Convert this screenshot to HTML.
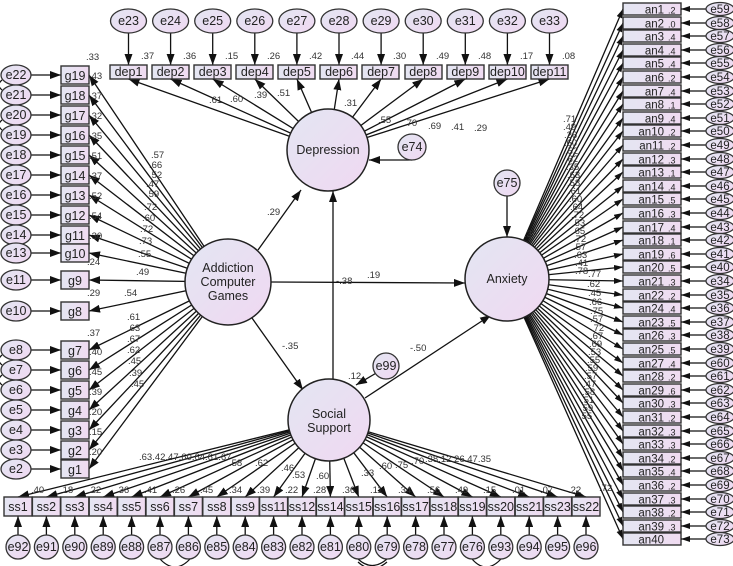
<!DOCTYPE html>
<html><head><meta charset="utf-8"><style>
html,body{margin:0;padding:0;background:#fff;}
svg{display:block;font-family:"Liberation Sans",sans-serif;}
.b{fill:url(#gb);stroke:#333;stroke-width:1.4}
.c{fill:url(#gc);stroke:#222;stroke-width:1.5}
.e{fill:url(#gc);stroke:#333;stroke-width:1.3}
line{stroke:#111;stroke-width:1.3}
.l{fill:#222;font-size:12.5px}
.s{fill:#333;font-size:9.5px}
.m{text-anchor:middle}
</style></head><body>
<svg width="733" height="566" viewBox="0 0 733 566" xmlns="http://www.w3.org/2000/svg">
<defs>
<linearGradient id="gb" x1="0" y1="0" x2="1" y2="0"><stop offset="0" stop-color="#e4e6f2"/><stop offset="1" stop-color="#f0dbf1"/></linearGradient>
<linearGradient id="gc" x1="0" y1="0" x2="1" y2="1"><stop offset="0" stop-color="#e3e6f3"/><stop offset="1" stop-color="#f0d8f1"/></linearGradient>
<marker id="a" markerWidth="11" markerHeight="8" refX="11" refY="4" orient="auto" markerUnits="userSpaceOnUse"><path d="M0,0L11,4L0,8z" fill="#111"/></marker>
<marker id="k" markerWidth="9" markerHeight="6" refX="9" refY="3" orient="auto" markerUnits="userSpaceOnUse"><path d="M0,0L9,3L0,6z" fill="#111"/></marker>
</defs>

<!-- ===== Depression indicators ===== -->
<g marker-end="url(#a)">
<line x1="328" y1="150" x2="128.5" y2="79"/><line x1="328" y1="150" x2="170.6" y2="79"/><line x1="328" y1="150" x2="212.7" y2="79"/><line x1="328" y1="150" x2="254.8" y2="79"/><line x1="328" y1="150" x2="296.9" y2="79"/><line x1="328" y1="150" x2="339" y2="79"/><line x1="328" y1="150" x2="381.1" y2="79"/><line x1="328" y1="150" x2="423.2" y2="79"/><line x1="328" y1="150" x2="465.3" y2="79"/><line x1="328" y1="150" x2="507.4" y2="79"/><line x1="328" y1="150" x2="549.5" y2="79"/>
<line x1="128.5" y1="33" x2="128.5" y2="65"/><line x1="170.6" y1="33" x2="170.6" y2="65"/><line x1="212.7" y1="33" x2="212.7" y2="65"/><line x1="254.8" y1="33" x2="254.8" y2="65"/><line x1="296.9" y1="33" x2="296.9" y2="65"/><line x1="339" y1="33" x2="339" y2="65"/><line x1="381.1" y1="33" x2="381.1" y2="65"/><line x1="423.2" y1="33" x2="423.2" y2="65"/><line x1="465.3" y1="33" x2="465.3" y2="65"/><line x1="507.4" y1="33" x2="507.4" y2="65"/><line x1="549.5" y1="33" x2="549.5" y2="65"/>
</g>
<g class="l m" font-size="12">
<rect class="b" x="110" y="65" width="37" height="14"/><text x="128.5" y="76">dep1</text>
<rect class="b" x="152" y="65" width="37" height="14"/><text x="170.6" y="76">dep2</text>
<rect class="b" x="194" y="65" width="37" height="14"/><text x="212.7" y="76">dep3</text>
<rect class="b" x="236" y="65" width="37" height="14"/><text x="254.8" y="76">dep4</text>
<rect class="b" x="278" y="65" width="37" height="14"/><text x="296.9" y="76">dep5</text>
<rect class="b" x="320" y="65" width="37" height="14"/><text x="339" y="76">dep6</text>
<rect class="b" x="362" y="65" width="37" height="14"/><text x="381.1" y="76">dep7</text>
<rect class="b" x="405" y="65" width="37" height="14"/><text x="423.2" y="76">dep8</text>
<rect class="b" x="447" y="65" width="37" height="14"/><text x="465.3" y="76">dep9</text>
<rect class="b" x="489" y="65" width="37" height="14"/><text x="507.4" y="76">dep10</text>
<rect class="b" x="531" y="65" width="37" height="14"/><text x="549.5" y="76">dep11</text>
</g>
<g class="l m" font-size="12">
<ellipse class="e" cx="128.5" cy="21" rx="18" ry="12"/><text x="128.5" y="25">e23</text>
<ellipse class="e" cx="170.6" cy="21" rx="18" ry="12"/><text x="170.6" y="25">e24</text>
<ellipse class="e" cx="212.7" cy="21" rx="18" ry="12"/><text x="212.7" y="25">e25</text>
<ellipse class="e" cx="254.8" cy="21" rx="18" ry="12"/><text x="254.8" y="25">e26</text>
<ellipse class="e" cx="296.9" cy="21" rx="18" ry="12"/><text x="296.9" y="25">e27</text>
<ellipse class="e" cx="339" cy="21" rx="18" ry="12"/><text x="339" y="25">e28</text>
<ellipse class="e" cx="381.1" cy="21" rx="18" ry="12"/><text x="381.1" y="25">e29</text>
<ellipse class="e" cx="423.2" cy="21" rx="18" ry="12"/><text x="423.2" y="25">e30</text>
<ellipse class="e" cx="465.3" cy="21" rx="18" ry="12"/><text x="465.3" y="25">e31</text>
<ellipse class="e" cx="507.4" cy="21" rx="18" ry="12"/><text x="507.4" y="25">e32</text>
<ellipse class="e" cx="549.5" cy="21" rx="18" ry="12"/><text x="549.5" y="25">e33</text>
</g>
<g class="s">
<text x="141" y="59">.37</text><text x="183" y="59">.36</text><text x="225" y="59">.15</text><text x="267" y="59">.26</text><text x="309" y="59">.42</text><text x="351" y="59">.44</text><text x="393" y="59">.30</text><text x="436" y="59">.49</text><text x="478" y="59">.48</text><text x="520" y="59">.17</text><text x="562" y="59">.08</text>
<text x="209" y="103">.61</text><text x="230" y="102">.60</text><text x="254" y="98">.39</text><text x="277" y="96">.51</text><text x="305" y="119">.65.67</text><text x="344" y="106">.31</text><text x="378" y="123">.55</text><text x="404" y="126">.70</text><text x="428" y="129">.69</text><text x="451" y="130">.41</text><text x="474" y="131">.29</text>
</g>

<!-- ===== Addiction indicators (g) ===== -->
<g marker-end="url(#a)">
<line x1="228" y1="282" x2="89" y2="75"/><line x1="228" y1="282" x2="89" y2="95"/><line x1="228" y1="282" x2="89" y2="115"/><line x1="228" y1="282" x2="89" y2="135"/><line x1="228" y1="282" x2="89" y2="155"/><line x1="228" y1="282" x2="89" y2="175"/><line x1="228" y1="282" x2="89" y2="195"/><line x1="228" y1="282" x2="89" y2="215"/><line x1="228" y1="282" x2="89" y2="235"/><line x1="228" y1="282" x2="89" y2="253"/><line x1="228" y1="282" x2="89" y2="280"/><line x1="228" y1="282" x2="89" y2="311"/><line x1="228" y1="282" x2="89" y2="350"/><line x1="228" y1="282" x2="89" y2="370"/><line x1="228" y1="282" x2="89" y2="390"/><line x1="228" y1="282" x2="89" y2="410"/><line x1="228" y1="282" x2="89" y2="430"/><line x1="228" y1="282" x2="89" y2="450"/><line x1="228" y1="282" x2="89" y2="469"/>
<line x1="31" y1="75" x2="61" y2="75"/><line x1="31" y1="95" x2="61" y2="95"/><line x1="31" y1="115" x2="61" y2="115"/><line x1="31" y1="135" x2="61" y2="135"/><line x1="31" y1="155" x2="61" y2="155"/><line x1="31" y1="175" x2="61" y2="175"/><line x1="31" y1="195" x2="61" y2="195"/><line x1="31" y1="215" x2="61" y2="215"/><line x1="31" y1="235" x2="61" y2="235"/><line x1="31" y1="253" x2="61" y2="253"/><line x1="31" y1="280" x2="61" y2="280"/><line x1="31" y1="311" x2="61" y2="311"/><line x1="31" y1="350" x2="61" y2="350"/><line x1="31" y1="370" x2="61" y2="370"/><line x1="31" y1="390" x2="61" y2="390"/><line x1="31" y1="410" x2="61" y2="410"/><line x1="31" y1="430" x2="61" y2="430"/><line x1="31" y1="450" x2="61" y2="450"/><line x1="31" y1="469" x2="61" y2="469"/>
</g>
<g class="l m" font-size="13">
<rect class="b" x="61" y="66" width="28" height="18"/><text x="75" y="80">g19</text>
<rect class="b" x="61" y="86" width="28" height="18"/><text x="75" y="100">g18</text>
<rect class="b" x="61" y="106" width="28" height="18"/><text x="75" y="120">g17</text>
<rect class="b" x="61" y="126" width="28" height="18"/><text x="75" y="140">g16</text>
<rect class="b" x="61" y="146" width="28" height="18"/><text x="75" y="160">g15</text>
<rect class="b" x="61" y="166" width="28" height="18"/><text x="75" y="180">g14</text>
<rect class="b" x="61" y="186" width="28" height="18"/><text x="75" y="200">g13</text>
<rect class="b" x="61" y="206" width="28" height="18"/><text x="75" y="220">g12</text>
<rect class="b" x="61" y="226" width="28" height="18"/><text x="75" y="240">g11</text>
<rect class="b" x="61" y="244" width="28" height="18"/><text x="75" y="258">g10</text>
<rect class="b" x="61" y="271" width="28" height="18"/><text x="75" y="285">g9</text>
<rect class="b" x="61" y="302" width="28" height="18"/><text x="75" y="316">g8</text>
<rect class="b" x="61" y="341" width="28" height="18"/><text x="75" y="355">g7</text>
<rect class="b" x="61" y="361" width="28" height="18"/><text x="75" y="375">g6</text>
<rect class="b" x="61" y="381" width="28" height="18"/><text x="75" y="395">g5</text>
<rect class="b" x="61" y="401" width="28" height="18"/><text x="75" y="415">g4</text>
<rect class="b" x="61" y="421" width="28" height="18"/><text x="75" y="435">g3</text>
<rect class="b" x="61" y="441" width="28" height="18"/><text x="75" y="455">g2</text>
<rect class="b" x="61" y="460" width="28" height="18"/><text x="75" y="474">g1</text>
</g>
<g class="l m" font-size="12">
<ellipse class="e" cx="16" cy="75" rx="15" ry="10"/><text x="16" y="79">e22</text>
<ellipse class="e" cx="16" cy="95" rx="15" ry="10"/><text x="16" y="99">e21</text>
<ellipse class="e" cx="16" cy="115" rx="15" ry="10"/><text x="16" y="119">e20</text>
<ellipse class="e" cx="16" cy="135" rx="15" ry="10"/><text x="16" y="139">e19</text>
<ellipse class="e" cx="16" cy="155" rx="15" ry="10"/><text x="16" y="159">e18</text>
<ellipse class="e" cx="16" cy="175" rx="15" ry="10"/><text x="16" y="179">e17</text>
<ellipse class="e" cx="16" cy="195" rx="15" ry="10"/><text x="16" y="199">e16</text>
<ellipse class="e" cx="16" cy="215" rx="15" ry="10"/><text x="16" y="219">e15</text>
<ellipse class="e" cx="16" cy="235" rx="15" ry="10"/><text x="16" y="239">e14</text>
<ellipse class="e" cx="16" cy="253" rx="15" ry="10"/><text x="16" y="257">e13</text>
<ellipse class="e" cx="16" cy="280" rx="15" ry="10"/><text x="16" y="284">e11</text>
<ellipse class="e" cx="16" cy="311" rx="15" ry="10"/><text x="16" y="315">e10</text>
<ellipse class="e" cx="16" cy="350" rx="15" ry="10"/><text x="16" y="354">e8</text>
<ellipse class="e" cx="16" cy="370" rx="15" ry="10"/><text x="16" y="374">e7</text>
<ellipse class="e" cx="16" cy="390" rx="15" ry="10"/><text x="16" y="394">e6</text>
<ellipse class="e" cx="16" cy="410" rx="15" ry="10"/><text x="16" y="414">e5</text>
<ellipse class="e" cx="16" cy="430" rx="15" ry="10"/><text x="16" y="434">e4</text>
<ellipse class="e" cx="16" cy="450" rx="15" ry="10"/><text x="16" y="454">e3</text>
<ellipse class="e" cx="16" cy="469" rx="15" ry="10"/><text x="16" y="473">e2</text>
</g>
<g class="s">
<text x="86" y="60">.33</text><text x="89" y="79">.43</text><text x="89" y="99">.37</text><text x="89" y="119">.32</text><text x="89" y="139">.35</text><text x="89" y="159">.51</text><text x="89" y="179">.37</text><text x="89" y="199">.52</text><text x="89" y="219">.54</text><text x="89" y="239">.30</text><text x="87" y="265">.24</text><text x="87" y="296">.29</text><text x="87" y="336">.37</text><text x="89" y="355">.40</text><text x="89" y="375">.45</text><text x="89" y="395">.39</text><text x="89" y="415">.20</text><text x="89" y="435">.15</text><text x="89" y="455">.20</text>
<text x="151" y="158">.57</text><text x="149" y="168">.66</text><text x="149" y="178">.52</text><text x="146" y="187">.47</text><text x="146" y="197">.59</text><text x="144" y="210">.72</text><text x="142" y="221">.60</text><text x="140" y="232">.72</text><text x="139" y="244">.73</text><text x="138" y="257">.55</text><text x="136" y="275">.49</text><text x="124" y="296">.54</text><text x="127" y="320">.61</text><text x="127" y="331">.63</text><text x="127" y="342">.67</text><text x="127" y="353">.62</text><text x="128" y="364">.45</text><text x="129" y="376">.39</text><text x="131" y="387">.45</text>
</g>

<!-- ===== Anxiety indicators (an) ===== -->
<g marker-end="url(#k)">
<line x1="507" y1="279" x2="623" y2="9"/><line x1="507" y1="279" x2="623" y2="23"/><line x1="507" y1="279" x2="623" y2="36"/><line x1="507" y1="279" x2="623" y2="50"/><line x1="507" y1="279" x2="623" y2="63"/><line x1="507" y1="279" x2="623" y2="77"/><line x1="507" y1="279" x2="623" y2="91"/><line x1="507" y1="279" x2="623" y2="104"/><line x1="507" y1="279" x2="623" y2="118"/><line x1="507" y1="279" x2="623" y2="131"/><line x1="507" y1="279" x2="623" y2="145"/><line x1="507" y1="279" x2="623" y2="159"/><line x1="507" y1="279" x2="623" y2="172"/><line x1="507" y1="279" x2="623" y2="186"/><line x1="507" y1="279" x2="623" y2="199"/><line x1="507" y1="279" x2="623" y2="213"/><line x1="507" y1="279" x2="623" y2="227"/><line x1="507" y1="279" x2="623" y2="240"/><line x1="507" y1="279" x2="623" y2="254"/><line x1="507" y1="279" x2="623" y2="267"/><line x1="507" y1="279" x2="623" y2="281"/><line x1="507" y1="279" x2="623" y2="295"/><line x1="507" y1="279" x2="623" y2="308"/><line x1="507" y1="279" x2="623" y2="322"/><line x1="507" y1="279" x2="623" y2="335"/><line x1="507" y1="279" x2="623" y2="349"/><line x1="507" y1="279" x2="623" y2="363"/><line x1="507" y1="279" x2="623" y2="376"/><line x1="507" y1="279" x2="623" y2="390"/><line x1="507" y1="279" x2="623" y2="403"/><line x1="507" y1="279" x2="623" y2="417"/><line x1="507" y1="279" x2="623" y2="431"/><line x1="507" y1="279" x2="623" y2="444"/><line x1="507" y1="279" x2="623" y2="458"/><line x1="507" y1="279" x2="623" y2="471"/><line x1="507" y1="279" x2="623" y2="485"/><line x1="507" y1="279" x2="623" y2="499"/><line x1="507" y1="279" x2="623" y2="512"/><line x1="507" y1="279" x2="623" y2="526"/><line x1="507" y1="279" x2="623" y2="539"/>
</g>
<g font-size="11.5" fill="#222">
<g transform="translate(0,3)"><rect class="b" x="623" y="0" width="58" height="12"/><text x="664" y="10.5" text-anchor="end">an1</text><text x="668" y="10.5" font-size="9">.2</text><line x1="706" y1="6" x2="681" y2="6" marker-end="url(#k)"/><ellipse class="e" cx="720" cy="6" rx="14" ry="6.5"/><text x="720" y="10" text-anchor="middle">e59</text></g>
<g transform="translate(0,17)"><rect class="b" x="623" y="0" width="58" height="12"/><text x="664" y="10.5" text-anchor="end">an2</text><text x="668" y="10.5" font-size="9">.0</text><line x1="706" y1="6" x2="681" y2="6" marker-end="url(#k)"/><ellipse class="e" cx="720" cy="6" rx="14" ry="6.5"/><text x="720" y="10" text-anchor="middle">e58</text></g>
<g transform="translate(0,30)"><rect class="b" x="623" y="0" width="58" height="12"/><text x="664" y="10.5" text-anchor="end">an3</text><text x="668" y="10.5" font-size="9">.4</text><line x1="706" y1="6" x2="681" y2="6" marker-end="url(#k)"/><ellipse class="e" cx="720" cy="6" rx="14" ry="6.5"/><text x="720" y="10" text-anchor="middle">e57</text></g>
<g transform="translate(0,44)"><rect class="b" x="623" y="0" width="58" height="12"/><text x="664" y="10.5" text-anchor="end">an4</text><text x="668" y="10.5" font-size="9">.4</text><line x1="706" y1="6" x2="681" y2="6" marker-end="url(#k)"/><ellipse class="e" cx="720" cy="6" rx="14" ry="6.5"/><text x="720" y="10" text-anchor="middle">e56</text></g>
<g transform="translate(0,57)"><rect class="b" x="623" y="0" width="58" height="12"/><text x="664" y="10.5" text-anchor="end">an5</text><text x="668" y="10.5" font-size="9">.4</text><line x1="706" y1="6" x2="681" y2="6" marker-end="url(#k)"/><ellipse class="e" cx="720" cy="6" rx="14" ry="6.5"/><text x="720" y="10" text-anchor="middle">e55</text></g>
<g transform="translate(0,71)"><rect class="b" x="623" y="0" width="58" height="12"/><text x="664" y="10.5" text-anchor="end">an6</text><text x="668" y="10.5" font-size="9">.2</text><line x1="706" y1="6" x2="681" y2="6" marker-end="url(#k)"/><ellipse class="e" cx="720" cy="6" rx="14" ry="6.5"/><text x="720" y="10" text-anchor="middle">e54</text></g>
<g transform="translate(0,85)"><rect class="b" x="623" y="0" width="58" height="12"/><text x="664" y="10.5" text-anchor="end">an7</text><text x="668" y="10.5" font-size="9">.4</text><line x1="706" y1="6" x2="681" y2="6" marker-end="url(#k)"/><ellipse class="e" cx="720" cy="6" rx="14" ry="6.5"/><text x="720" y="10" text-anchor="middle">e53</text></g>
<g transform="translate(0,98)"><rect class="b" x="623" y="0" width="58" height="12"/><text x="664" y="10.5" text-anchor="end">an8</text><text x="668" y="10.5" font-size="9">.1</text><line x1="706" y1="6" x2="681" y2="6" marker-end="url(#k)"/><ellipse class="e" cx="720" cy="6" rx="14" ry="6.5"/><text x="720" y="10" text-anchor="middle">e52</text></g>
<g transform="translate(0,112)"><rect class="b" x="623" y="0" width="58" height="12"/><text x="664" y="10.5" text-anchor="end">an9</text><text x="668" y="10.5" font-size="9">.4</text><line x1="706" y1="6" x2="681" y2="6" marker-end="url(#k)"/><ellipse class="e" cx="720" cy="6" rx="14" ry="6.5"/><text x="720" y="10" text-anchor="middle">e51</text></g>
<g transform="translate(0,125)"><rect class="b" x="623" y="0" width="58" height="12"/><text x="664" y="10.5" text-anchor="end">an10</text><text x="668" y="10.5" font-size="9">.2</text><line x1="706" y1="6" x2="681" y2="6" marker-end="url(#k)"/><ellipse class="e" cx="720" cy="6" rx="14" ry="6.5"/><text x="720" y="10" text-anchor="middle">e50</text></g>
<g transform="translate(0,139)"><rect class="b" x="623" y="0" width="58" height="12"/><text x="664" y="10.5" text-anchor="end">an11</text><text x="668" y="10.5" font-size="9">.2</text><line x1="706" y1="6" x2="681" y2="6" marker-end="url(#k)"/><ellipse class="e" cx="720" cy="6" rx="14" ry="6.5"/><text x="720" y="10" text-anchor="middle">e49</text></g>
<g transform="translate(0,153)"><rect class="b" x="623" y="0" width="58" height="12"/><text x="664" y="10.5" text-anchor="end">an12</text><text x="668" y="10.5" font-size="9">.3</text><line x1="706" y1="6" x2="681" y2="6" marker-end="url(#k)"/><ellipse class="e" cx="720" cy="6" rx="14" ry="6.5"/><text x="720" y="10" text-anchor="middle">e48</text></g>
<g transform="translate(0,166)"><rect class="b" x="623" y="0" width="58" height="12"/><text x="664" y="10.5" text-anchor="end">an13</text><text x="668" y="10.5" font-size="9">.1</text><line x1="706" y1="6" x2="681" y2="6" marker-end="url(#k)"/><ellipse class="e" cx="720" cy="6" rx="14" ry="6.5"/><text x="720" y="10" text-anchor="middle">e47</text></g>
<g transform="translate(0,180)"><rect class="b" x="623" y="0" width="58" height="12"/><text x="664" y="10.5" text-anchor="end">an14</text><text x="668" y="10.5" font-size="9">.4</text><line x1="706" y1="6" x2="681" y2="6" marker-end="url(#k)"/><ellipse class="e" cx="720" cy="6" rx="14" ry="6.5"/><text x="720" y="10" text-anchor="middle">e46</text></g>
<g transform="translate(0,193)"><rect class="b" x="623" y="0" width="58" height="12"/><text x="664" y="10.5" text-anchor="end">an15</text><text x="668" y="10.5" font-size="9">.5</text><line x1="706" y1="6" x2="681" y2="6" marker-end="url(#k)"/><ellipse class="e" cx="720" cy="6" rx="14" ry="6.5"/><text x="720" y="10" text-anchor="middle">e45</text></g>
<g transform="translate(0,207)"><rect class="b" x="623" y="0" width="58" height="12"/><text x="664" y="10.5" text-anchor="end">an16</text><text x="668" y="10.5" font-size="9">.3</text><line x1="706" y1="6" x2="681" y2="6" marker-end="url(#k)"/><ellipse class="e" cx="720" cy="6" rx="14" ry="6.5"/><text x="720" y="10" text-anchor="middle">e44</text></g>
<g transform="translate(0,221)"><rect class="b" x="623" y="0" width="58" height="12"/><text x="664" y="10.5" text-anchor="end">an17</text><text x="668" y="10.5" font-size="9">.4</text><line x1="706" y1="6" x2="681" y2="6" marker-end="url(#k)"/><ellipse class="e" cx="720" cy="6" rx="14" ry="6.5"/><text x="720" y="10" text-anchor="middle">e43</text></g>
<g transform="translate(0,234)"><rect class="b" x="623" y="0" width="58" height="12"/><text x="664" y="10.5" text-anchor="end">an18</text><text x="668" y="10.5" font-size="9">.1</text><line x1="706" y1="6" x2="681" y2="6" marker-end="url(#k)"/><ellipse class="e" cx="720" cy="6" rx="14" ry="6.5"/><text x="720" y="10" text-anchor="middle">e42</text></g>
<g transform="translate(0,248)"><rect class="b" x="623" y="0" width="58" height="12"/><text x="664" y="10.5" text-anchor="end">an19</text><text x="668" y="10.5" font-size="9">.6</text><line x1="706" y1="6" x2="681" y2="6" marker-end="url(#k)"/><ellipse class="e" cx="720" cy="6" rx="14" ry="6.5"/><text x="720" y="10" text-anchor="middle">e41</text></g>
<g transform="translate(0,261)"><rect class="b" x="623" y="0" width="58" height="12"/><text x="664" y="10.5" text-anchor="end">an20</text><text x="668" y="10.5" font-size="9">.5</text><line x1="706" y1="6" x2="681" y2="6" marker-end="url(#k)"/><ellipse class="e" cx="720" cy="6" rx="14" ry="6.5"/><text x="720" y="10" text-anchor="middle">e40</text></g>
<g transform="translate(0,275)"><rect class="b" x="623" y="0" width="58" height="12"/><text x="664" y="10.5" text-anchor="end">an21</text><text x="668" y="10.5" font-size="9">.3</text><line x1="706" y1="6" x2="681" y2="6" marker-end="url(#k)"/><ellipse class="e" cx="720" cy="6" rx="14" ry="6.5"/><text x="720" y="10" text-anchor="middle">e34</text></g>
<g transform="translate(0,289)"><rect class="b" x="623" y="0" width="58" height="12"/><text x="664" y="10.5" text-anchor="end">an22</text><text x="668" y="10.5" font-size="9">.2</text><line x1="706" y1="6" x2="681" y2="6" marker-end="url(#k)"/><ellipse class="e" cx="720" cy="6" rx="14" ry="6.5"/><text x="720" y="10" text-anchor="middle">e35</text></g>
<g transform="translate(0,302)"><rect class="b" x="623" y="0" width="58" height="12"/><text x="664" y="10.5" text-anchor="end">an24</text><text x="668" y="10.5" font-size="9">.4</text><line x1="706" y1="6" x2="681" y2="6" marker-end="url(#k)"/><ellipse class="e" cx="720" cy="6" rx="14" ry="6.5"/><text x="720" y="10" text-anchor="middle">e36</text></g>
<g transform="translate(0,316)"><rect class="b" x="623" y="0" width="58" height="12"/><text x="664" y="10.5" text-anchor="end">an23</text><text x="668" y="10.5" font-size="9">.5</text><line x1="706" y1="6" x2="681" y2="6" marker-end="url(#k)"/><ellipse class="e" cx="720" cy="6" rx="14" ry="6.5"/><text x="720" y="10" text-anchor="middle">e37</text></g>
<g transform="translate(0,329)"><rect class="b" x="623" y="0" width="58" height="12"/><text x="664" y="10.5" text-anchor="end">an26</text><text x="668" y="10.5" font-size="9">.3</text><line x1="706" y1="6" x2="681" y2="6" marker-end="url(#k)"/><ellipse class="e" cx="720" cy="6" rx="14" ry="6.5"/><text x="720" y="10" text-anchor="middle">e38</text></g>
<g transform="translate(0,343)"><rect class="b" x="623" y="0" width="58" height="12"/><text x="664" y="10.5" text-anchor="end">an25</text><text x="668" y="10.5" font-size="9">.5</text><line x1="706" y1="6" x2="681" y2="6" marker-end="url(#k)"/><ellipse class="e" cx="720" cy="6" rx="14" ry="6.5"/><text x="720" y="10" text-anchor="middle">e39</text></g>
<g transform="translate(0,357)"><rect class="b" x="623" y="0" width="58" height="12"/><text x="664" y="10.5" text-anchor="end">an27</text><text x="668" y="10.5" font-size="9">.4</text><line x1="706" y1="6" x2="681" y2="6" marker-end="url(#k)"/><ellipse class="e" cx="720" cy="6" rx="14" ry="6.5"/><text x="720" y="10" text-anchor="middle">e60</text></g>
<g transform="translate(0,370)"><rect class="b" x="623" y="0" width="58" height="12"/><text x="664" y="10.5" text-anchor="end">an28</text><text x="668" y="10.5" font-size="9">.2</text><line x1="706" y1="6" x2="681" y2="6" marker-end="url(#k)"/><ellipse class="e" cx="720" cy="6" rx="14" ry="6.5"/><text x="720" y="10" text-anchor="middle">e61</text></g>
<g transform="translate(0,384)"><rect class="b" x="623" y="0" width="58" height="12"/><text x="664" y="10.5" text-anchor="end">an29</text><text x="668" y="10.5" font-size="9">.6</text><line x1="706" y1="6" x2="681" y2="6" marker-end="url(#k)"/><ellipse class="e" cx="720" cy="6" rx="14" ry="6.5"/><text x="720" y="10" text-anchor="middle">e62</text></g>
<g transform="translate(0,397)"><rect class="b" x="623" y="0" width="58" height="12"/><text x="664" y="10.5" text-anchor="end">an30</text><text x="668" y="10.5" font-size="9">.3</text><line x1="706" y1="6" x2="681" y2="6" marker-end="url(#k)"/><ellipse class="e" cx="720" cy="6" rx="14" ry="6.5"/><text x="720" y="10" text-anchor="middle">e63</text></g>
<g transform="translate(0,411)"><rect class="b" x="623" y="0" width="58" height="12"/><text x="664" y="10.5" text-anchor="end">an31</text><text x="668" y="10.5" font-size="9">.2</text><line x1="706" y1="6" x2="681" y2="6" marker-end="url(#k)"/><ellipse class="e" cx="720" cy="6" rx="14" ry="6.5"/><text x="720" y="10" text-anchor="middle">e64</text></g>
<g transform="translate(0,425)"><rect class="b" x="623" y="0" width="58" height="12"/><text x="664" y="10.5" text-anchor="end">an32</text><text x="668" y="10.5" font-size="9">.3</text><line x1="706" y1="6" x2="681" y2="6" marker-end="url(#k)"/><ellipse class="e" cx="720" cy="6" rx="14" ry="6.5"/><text x="720" y="10" text-anchor="middle">e65</text></g>
<g transform="translate(0,438)"><rect class="b" x="623" y="0" width="58" height="12"/><text x="664" y="10.5" text-anchor="end">an33</text><text x="668" y="10.5" font-size="9">.3</text><line x1="706" y1="6" x2="681" y2="6" marker-end="url(#k)"/><ellipse class="e" cx="720" cy="6" rx="14" ry="6.5"/><text x="720" y="10" text-anchor="middle">e66</text></g>
<g transform="translate(0,452)"><rect class="b" x="623" y="0" width="58" height="12"/><text x="664" y="10.5" text-anchor="end">an34</text><text x="668" y="10.5" font-size="9">.2</text><line x1="706" y1="6" x2="681" y2="6" marker-end="url(#k)"/><ellipse class="e" cx="720" cy="6" rx="14" ry="6.5"/><text x="720" y="10" text-anchor="middle">e67</text></g>
<g transform="translate(0,465)"><rect class="b" x="623" y="0" width="58" height="12"/><text x="664" y="10.5" text-anchor="end">an35</text><text x="668" y="10.5" font-size="9">.4</text><line x1="706" y1="6" x2="681" y2="6" marker-end="url(#k)"/><ellipse class="e" cx="720" cy="6" rx="14" ry="6.5"/><text x="720" y="10" text-anchor="middle">e68</text></g>
<g transform="translate(0,479)"><rect class="b" x="623" y="0" width="58" height="12"/><text x="664" y="10.5" text-anchor="end">an36</text><text x="668" y="10.5" font-size="9">.2</text><line x1="706" y1="6" x2="681" y2="6" marker-end="url(#k)"/><ellipse class="e" cx="720" cy="6" rx="14" ry="6.5"/><text x="720" y="10" text-anchor="middle">e69</text></g>
<g transform="translate(0,493)"><rect class="b" x="623" y="0" width="58" height="12"/><text x="664" y="10.5" text-anchor="end">an37</text><text x="668" y="10.5" font-size="9">.3</text><line x1="706" y1="6" x2="681" y2="6" marker-end="url(#k)"/><ellipse class="e" cx="720" cy="6" rx="14" ry="6.5"/><text x="720" y="10" text-anchor="middle">e70</text></g>
<g transform="translate(0,506)"><rect class="b" x="623" y="0" width="58" height="12"/><text x="664" y="10.5" text-anchor="end">an38</text><text x="668" y="10.5" font-size="9">.2</text><line x1="706" y1="6" x2="681" y2="6" marker-end="url(#k)"/><ellipse class="e" cx="720" cy="6" rx="14" ry="6.5"/><text x="720" y="10" text-anchor="middle">e71</text></g>
<g transform="translate(0,520)"><rect class="b" x="623" y="0" width="58" height="12"/><text x="664" y="10.5" text-anchor="end">an39</text><text x="668" y="10.5" font-size="9">.3</text><line x1="706" y1="6" x2="681" y2="6" marker-end="url(#k)"/><ellipse class="e" cx="720" cy="6" rx="14" ry="6.5"/><text x="720" y="10" text-anchor="middle">e72</text></g>
<g transform="translate(0,533)"><rect class="b" x="623" y="0" width="58" height="12"/><text x="664" y="10.5" text-anchor="end">an40</text><line x1="706" y1="6" x2="681" y2="6" marker-end="url(#k)"/><ellipse class="e" cx="720" cy="6" rx="14" ry="6.5"/><text x="720" y="10" text-anchor="middle">e73</text></g>
</g>
<g class="s" font-size="9">
<text x="563" y="122">.71</text><text x="563" y="130">.49</text><text x="564" y="138">.26</text><text x="564" y="146">.60</text><text x="565" y="154">.52</text><text x="565" y="162">.62</text><text x="566" y="170">.35</text><text x="567" y="178">.63</text><text x="567" y="186">.58</text><text x="568" y="194">.61</text><text x="569" y="202">.60</text><text x="570" y="210">.64</text><text x="571" y="218">.72</text><text x="572" y="226">.53</text><text x="572" y="234">.65</text><text x="573" y="242">.72</text><text x="573" y="250">.57</text><text x="574" y="258">.63</text><text x="575" y="266">.41</text><text x="575" y="274">.78</text>
<text x="588" y="277">.77</text><text x="587" y="287">.62</text><text x="588" y="296">.45</text><text x="589" y="305">.66</text><text x="590" y="314">.75</text><text x="590" y="322">.57</text><text x="591" y="331">.72</text><text x="590" y="339">.67</text><text x="589" y="347">.69</text><text x="588" y="355">.53</text><text x="587" y="363">.55</text><text x="585" y="371">.59</text><text x="584" y="379">.57</text><text x="583" y="387">.47</text><text x="582" y="395">.58</text><text x="581" y="403">.51</text><text x="580" y="411">.59</text><text x="579" y="419">.55</text><text x="524" y="237">.35</text><text x="599" y="491">.72</text>
</g>

<!-- ===== Social support indicators (ss) ===== -->
<g marker-end="url(#a)">
<line x1="329" y1="420" x2="18" y2="497"/><line x1="329" y1="420" x2="46.4" y2="497"/><line x1="329" y1="420" x2="74.8" y2="497"/><line x1="329" y1="420" x2="103.2" y2="497"/><line x1="329" y1="420" x2="131.6" y2="497"/><line x1="329" y1="420" x2="160" y2="497"/><line x1="329" y1="420" x2="188.4" y2="497"/><line x1="329" y1="420" x2="216.8" y2="497"/><line x1="329" y1="420" x2="245.2" y2="497"/><line x1="329" y1="420" x2="273.6" y2="497"/><line x1="329" y1="420" x2="302" y2="497"/><line x1="329" y1="420" x2="330.4" y2="497"/><line x1="329" y1="420" x2="358.8" y2="497"/><line x1="329" y1="420" x2="387.2" y2="497"/><line x1="329" y1="420" x2="415.6" y2="497"/><line x1="329" y1="420" x2="444" y2="497"/><line x1="329" y1="420" x2="472.4" y2="497"/><line x1="329" y1="420" x2="500.8" y2="497"/><line x1="329" y1="420" x2="529.2" y2="497"/><line x1="329" y1="420" x2="557.6" y2="497"/><line x1="329" y1="420" x2="586" y2="497"/>
<line x1="18" y1="535" x2="18" y2="516"/><line x1="46.4" y1="535" x2="46.4" y2="516"/><line x1="74.8" y1="535" x2="74.8" y2="516"/><line x1="103.2" y1="535" x2="103.2" y2="516"/><line x1="131.6" y1="535" x2="131.6" y2="516"/><line x1="160" y1="535" x2="160" y2="516"/><line x1="188.4" y1="535" x2="188.4" y2="516"/><line x1="216.8" y1="535" x2="216.8" y2="516"/><line x1="245.2" y1="535" x2="245.2" y2="516"/><line x1="273.6" y1="535" x2="273.6" y2="516"/><line x1="302" y1="535" x2="302" y2="516"/><line x1="330.4" y1="535" x2="330.4" y2="516"/><line x1="358.8" y1="535" x2="358.8" y2="516"/><line x1="387.2" y1="535" x2="387.2" y2="516"/><line x1="415.6" y1="535" x2="415.6" y2="516"/><line x1="444" y1="535" x2="444" y2="516"/><line x1="472.4" y1="535" x2="472.4" y2="516"/><line x1="500.8" y1="535" x2="500.8" y2="516"/><line x1="529.2" y1="535" x2="529.2" y2="516"/><line x1="557.6" y1="535" x2="557.6" y2="516"/><line x1="586" y1="535" x2="586" y2="516"/>
</g>
<g fill="none" stroke="#111" stroke-width="1.2">
<path d="M160,559 Q175,575 190,559"/><path d="M358,559 Q372,572 387,559"/><path d="M387,559 Q372,572 358,559" transform="translate(0,3)"/><path d="M472,559 Q486,575 501,559"/>
<path d="M2,80 Q-4,85 2,90"/><path d="M2,120 Q-4,125 2,130"/><path d="M2,355 Q-4,360 2,365"/><path d="M2,375 Q-4,380 2,385"/>
</g>
<g class="l m" font-size="13">
<rect class="b" x="4" y="497" width="28" height="19"/><text x="18" y="511">ss1</text>
<rect class="b" x="32.4" y="497" width="28" height="19"/><text x="46.4" y="511">ss2</text>
<rect class="b" x="60.8" y="497" width="28" height="19"/><text x="74.8" y="511">ss3</text>
<rect class="b" x="89.2" y="497" width="28" height="19"/><text x="103.2" y="511">ss4</text>
<rect class="b" x="117.6" y="497" width="28" height="19"/><text x="131.6" y="511">ss5</text>
<rect class="b" x="146" y="497" width="28" height="19"/><text x="160" y="511">ss6</text>
<rect class="b" x="174.4" y="497" width="28" height="19"/><text x="188.4" y="511">ss7</text>
<rect class="b" x="202.8" y="497" width="28" height="19"/><text x="216.8" y="511">ss8</text>
<rect class="b" x="231.2" y="497" width="28" height="19"/><text x="245.2" y="511">ss9</text>
<rect class="b" x="259.6" y="497" width="28" height="19"/><text x="273.6" y="511">ss11</text>
<rect class="b" x="288" y="497" width="28" height="19"/><text x="302" y="511">ss12</text>
<rect class="b" x="316.4" y="497" width="28" height="19"/><text x="330.4" y="511">ss14</text>
<rect class="b" x="344.8" y="497" width="28" height="19"/><text x="358.8" y="511">ss15</text>
<rect class="b" x="373.2" y="497" width="28" height="19"/><text x="387.2" y="511">ss16</text>
<rect class="b" x="401.6" y="497" width="28" height="19"/><text x="415.6" y="511">ss17</text>
<rect class="b" x="430" y="497" width="28" height="19"/><text x="444" y="511">ss18</text>
<rect class="b" x="458.4" y="497" width="28" height="19"/><text x="472.4" y="511">ss19</text>
<rect class="b" x="486.8" y="497" width="28" height="19"/><text x="500.8" y="511">ss20</text>
<rect class="b" x="515.2" y="497" width="28" height="19"/><text x="529.2" y="511">ss21</text>
<rect class="b" x="543.6" y="497" width="28" height="19"/><text x="557.6" y="511">ss23</text>
<rect class="b" x="572" y="497" width="28" height="19"/><text x="586" y="511">ss22</text>
</g>
<g class="l m" font-size="11">
<circle class="e" cx="18" cy="547" r="12"/><text x="18" y="551">e92</text>
<circle class="e" cx="46.4" cy="547" r="12"/><text x="46.4" y="551">e91</text>
<circle class="e" cx="74.8" cy="547" r="12"/><text x="74.8" y="551">e90</text>
<circle class="e" cx="103.2" cy="547" r="12"/><text x="103.2" y="551">e89</text>
<circle class="e" cx="131.6" cy="547" r="12"/><text x="131.6" y="551">e88</text>
<circle class="e" cx="160" cy="547" r="12"/><text x="160" y="551">e87</text>
<circle class="e" cx="188.4" cy="547" r="12"/><text x="188.4" y="551">e86</text>
<circle class="e" cx="216.8" cy="547" r="12"/><text x="216.8" y="551">e85</text>
<circle class="e" cx="245.2" cy="547" r="12"/><text x="245.2" y="551">e84</text>
<circle class="e" cx="273.6" cy="547" r="12"/><text x="273.6" y="551">e83</text>
<circle class="e" cx="302" cy="547" r="12"/><text x="302" y="551">e82</text>
<circle class="e" cx="330.4" cy="547" r="12"/><text x="330.4" y="551">e81</text>
<circle class="e" cx="358.8" cy="547" r="12"/><text x="358.8" y="551">e80</text>
<circle class="e" cx="387.2" cy="547" r="12"/><text x="387.2" y="551">e79</text>
<circle class="e" cx="415.6" cy="547" r="12"/><text x="415.6" y="551">e78</text>
<circle class="e" cx="444" cy="547" r="12"/><text x="444" y="551">e77</text>
<circle class="e" cx="472.4" cy="547" r="12"/><text x="472.4" y="551">e76</text>
<circle class="e" cx="500.8" cy="547" r="12"/><text x="500.8" y="551">e93</text>
<circle class="e" cx="529.2" cy="547" r="12"/><text x="529.2" y="551">e94</text>
<circle class="e" cx="557.6" cy="547" r="12"/><text x="557.6" y="551">e95</text>
<circle class="e" cx="586" cy="547" r="12"/><text x="586" y="551">e96</text>
</g>
<g class="s">
<text x="31" y="493">.40</text><text x="60" y="493">.18</text><text x="88" y="493">.22</text><text x="116" y="493">.36</text><text x="144" y="493">.41</text><text x="172" y="493">.26</text><text x="200" y="493">.45</text><text x="229" y="493">.34</text><text x="257" y="493">.39</text><text x="285" y="493">.22</text><text x="313" y="493">.28</text><text x="342" y="493">.36</text><text x="370" y="493">.11</text><text x="398" y="493">.34</text><text x="427" y="493">.56</text><text x="455" y="493">.49</text><text x="483" y="493">.15</text><text x="512" y="493">.01</text><text x="540" y="493">.07</text><text x="568" y="493">.22</text>
<text x="139" y="460">.63.42.47.60.64.61.67</text><text x="229" y="466">.58</text><text x="255" y="466">.62</text><text x="281" y="471">.46</text><text x="292" y="478">.53</text><text x="316" y="479">.60</text><text x="361" y="476">.33</text><text x="379" y="469">.60</text><text x="395" y="468">.75</text><text x="411" y="464">.70</text><text x="425" y="462">.38.12.26.47.35</text>
</g>

<!-- ===== Structural paths ===== -->
<g marker-end="url(#a)">
<line x1="258" y1="250" x2="301" y2="190"/>
<line x1="271" y1="282" x2="465" y2="283"/>
<line x1="333" y1="380" x2="333" y2="191"/>
<line x1="252" y1="318" x2="303" y2="390"/>
<line x1="365" y1="398" x2="491" y2="315"/>
<line x1="378" y1="372" x2="356" y2="385"/>
<line x1="412" y1="160" x2="369" y2="160"/>
<line x1="507" y1="196" x2="507" y2="237"/>
</g>
<g class="s">
<text x="267" y="215">.29</text><text x="336" y="284">-.38</text><text x="367" y="278">.19</text><text x="282" y="349">-.35</text><text x="410" y="351">-.50</text><text x="348" y="379">.12</text>
</g>

<circle class="c" cx="328" cy="150" r="41"/><text x="328" y="154" class="l m" font-size="12.5">Depression</text>
<circle class="c" cx="507" cy="279" r="42"/><text x="507" y="283" class="l m" font-size="12.5">Anxiety</text>
<circle class="c" cx="228" cy="282" r="43"/><text class="l m" font-size="12.5"><tspan x="228" y="272">Addiction</tspan><tspan x="228" y="286">Computer</tspan><tspan x="228" y="300">Games</tspan></text>
<circle class="c" cx="329" cy="420" r="41"/><text class="l m" font-size="12.5"><tspan x="329" y="418">Social</tspan><tspan x="329" y="432">Support</tspan></text>
<ellipse class="e" cx="412" cy="147" rx="14" ry="13"/><text x="412" y="151" class="l m" font-size="11.5">e74</text>
<circle class="e" cx="507" cy="183" r="13"/><text x="507" y="187" class="l m" font-size="11.5">e75</text>
<circle class="e" cx="386" cy="366" r="13"/><text x="386" y="370" class="l m" font-size="11.5">e99</text>
</svg>
</body></html>
